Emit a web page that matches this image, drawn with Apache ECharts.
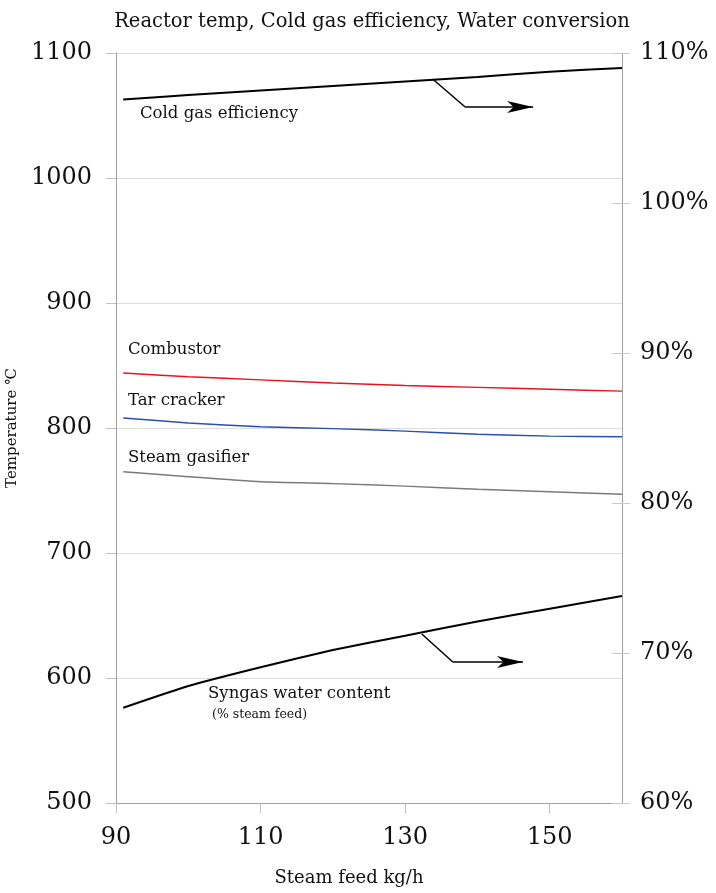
<!DOCTYPE html>
<html>
<head>
<meta charset="utf-8">
<script src="https://cdn.jsdelivr.net/npm/echarts@6/dist/echarts.min.js"></script>
<style>html,body{margin:0;padding:0;background:#fff}#c{width:716px;height:893px}</style>
</head>
<body>
<div id="c"></div>
<script>
// ---- data ----
const steamFeed = [91, 100, 110, 120, 130, 140, 150, 160];
const coldGasEff = [106.9, 107.2, 107.5, 107.8, 108.1, 108.4, 108.75, 109.0];   // % (right axis)
const combustor = [844, 841, 838.5, 836, 834, 832.5, 831, 829.5];               // °C
const tarCracker = [808, 804, 801, 799.5, 797.5, 795, 793.5, 793];              // °C
const steamGasifier = [765, 761, 757, 755.5, 753.5, 751, 749, 747];             // °C
const syngasWater = [66.35, 67.8, 69.05, 70.2, 71.15, 72.1, 72.95, 73.8];       // % (right axis)
const xTicks = [90, 110, 130, 150];
const coldGasArrow = [[133.8, 108.27], [138.3, 106.4], [147.7, 106.4]];
const syngasArrow = [[132.3, 71.27], [136.6, 69.4], [146.3, 69.4]];

const pairs = ys => steamFeed.map((x, i) => [x, ys[i]]);
const FONT = 'DejaVu Serif';

function arrowLines(pts) {
  return {
    silent: true,
    animation: false,
    label: { show: false },
    lineStyle: { color: '#000', width: 1.5, type: 'solid' },
    symbolSize: [9, 26],
    data: [
      [{ coord: pts[0], symbol: 'none' }, { coord: pts[1], symbol: 'none' }],
      [{ coord: pts[1], symbol: 'none' }, { coord: pts[2], symbol: 'arrow' }]
    ]
  };
}

const lineBase = { type: 'line', smooth: 0.15, showSymbol: false };

const chart = echarts.init(document.getElementById('c'));
chart.setOption({
  animation: false,
  backgroundColor: '#fff',
  title: {
    text: 'Reactor temp, Cold gas efficiency, Water conversion',
    left: 367, top: 7, textAlign: 'center',
    textStyle: { fontFamily: FONT, fontSize: 19.5, fontWeight: 'normal', color: '#111' }
  },
  grid: { left: 116, right: 94, top: 53, bottom: 90, outerBoundsMode: 'none', containLabel: false },
  xAxis: {
    type: 'value', min: 90, max: 160,
    name: 'Steam feed kg/h', nameLocation: 'middle', nameGap: 66,
    nameTextStyle: { fontFamily: FONT, fontSize: 18, color: '#111', padding: [0, 40, 0, 0] },
    axisLine: { lineStyle: { color: '#a0a0a0' } },
    axisTick: { show: true, length: 10, lineStyle: { color: '#c0c0c0' }, customValues: xTicks },
    axisLabel: { customValues: xTicks, margin: 23, fontFamily: FONT, fontSize: 24, color: '#111', formatter: v => String(v) },
    splitLine: { show: false }
  },
  yAxis: [
    {
      type: 'value', min: 500, max: 1100, interval: 100, position: 'left',
      name: 'Temperature ℃', nameLocation: 'middle', nameGap: 78,
      nameTextStyle: { fontFamily: FONT, fontSize: 15, color: '#111' },
      axisLine: { show: true, lineStyle: { color: '#a0a0a0' } },
      axisTick: { show: true, length: 10, lineStyle: { color: '#c0c0c0' } },
      axisLabel: { margin: 24, fontFamily: FONT, fontSize: 24, color: '#111', formatter: v => String(v) },
      splitLine: { show: true, lineStyle: { color: '#dcdcdc', width: 1 } }
    },
    {
      type: 'value', min: 60, max: 110, interval: 10, position: 'right',
      axisLine: { show: true, lineStyle: { color: '#a0a0a0' } },
      axisTick: { show: true, length: 8, lineStyle: { color: '#c8c8c8' } },
      axisLabel: { margin: 18, fontFamily: FONT, fontSize: 24, color: '#111', formatter: v => v + '%' },
      splitLine: { show: false }
    },
    {
      type: 'value', min: 60, max: 110, interval: 10, position: 'right',
      axisLine: { show: false },
      axisTick: { show: true, inside: true, length: 10, lineStyle: { color: '#c8c8c8' } },
      axisLabel: { show: false },
      splitLine: { show: false }
    }
  ],
  series: [
    Object.assign({}, lineBase, {
      name: 'Cold gas efficiency', yAxisIndex: 1, data: pairs(coldGasEff),
      lineStyle: { color: '#000', width: 2 }, itemStyle: { color: '#000' },
      markLine: arrowLines(coldGasArrow)
    }),
    Object.assign({}, lineBase, {
      name: 'Combustor', yAxisIndex: 0, data: pairs(combustor),
      lineStyle: { color: '#e8141c', width: 1.5 }, itemStyle: { color: '#e8141c' }
    }),
    Object.assign({}, lineBase, {
      name: 'Tar cracker', yAxisIndex: 0, data: pairs(tarCracker),
      lineStyle: { color: '#2b4eb0', width: 1.5 }, itemStyle: { color: '#2b4eb0' }
    }),
    Object.assign({}, lineBase, {
      name: 'Steam gasifier', yAxisIndex: 0, data: pairs(steamGasifier),
      lineStyle: { color: '#7a7a7a', width: 1.5 }, itemStyle: { color: '#7a7a7a' }
    }),
    Object.assign({}, lineBase, {
      name: 'Syngas water content', yAxisIndex: 1, data: pairs(syngasWater),
      lineStyle: { color: '#000', width: 2 }, itemStyle: { color: '#000' },
      markLine: arrowLines(syngasArrow)
    })
  ],
  graphic: [
    { type: 'text', left: 140, top: 105, style: { text: 'Cold gas efficiency', fontFamily: FONT, fontSize: 16.5, fill: '#111' } },
    { type: 'text', left: 128, top: 341, style: { text: 'Combustor', fontFamily: FONT, fontSize: 16.5, fill: '#111' } },
    { type: 'text', left: 128, top: 392, style: { text: 'Tar cracker', fontFamily: FONT, fontSize: 16.5, fill: '#111' } },
    { type: 'text', left: 128, top: 449, style: { text: 'Steam gasifier', fontFamily: FONT, fontSize: 16.5, fill: '#111' } },
    { type: 'text', left: 208, top: 685, style: { text: 'Syngas water content', fontFamily: FONT, fontSize: 16.5, fill: '#111' } },
    { type: 'text', left: 212, top: 708, style: { text: '(% steam feed)', fontFamily: FONT, fontSize: 12.5, fill: '#111' } }
  ]
});
</script>
</body>
</html>
